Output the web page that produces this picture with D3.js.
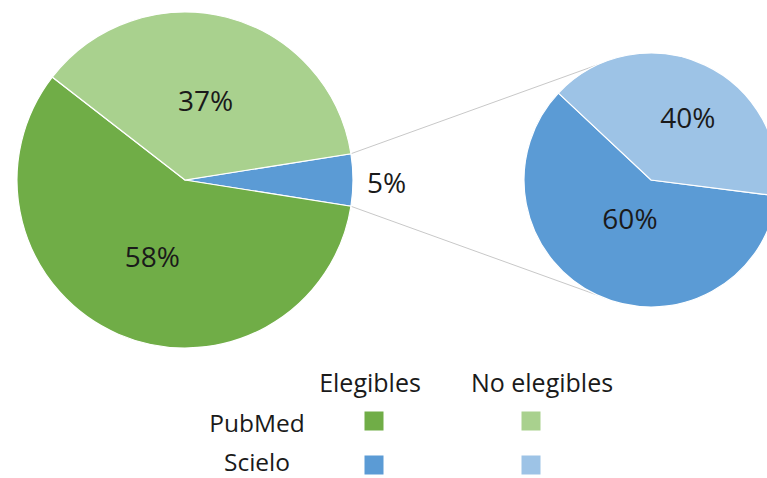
<!DOCTYPE html>
<html>
<head>
<meta charset="utf-8">
<script src="https://cdn.jsdelivr.net/npm/d3@7"></script>
<style>
  html, body { margin: 0; padding: 0; background: #ffffff; }
  svg { display: block; font-family: "Open Sans", "Noto Sans", sans-serif; }
</style>
</head>
<body>
<svg id="chart" width="767" height="478"></svg>
<script>
// Main pie: share of all records
const mainCategories = ["Scielo", "PubMed elegibles", "PubMed no elegibles"];
const mainValues = [5, 58, 37];
const mainColors = ["#5b9bd5", "#70ad47", "#a9d18e"];

// Secondary pie: breakdown of the Scielo slice
const subCategories = ["Scielo elegibles", "Scielo no elegibles"];
const subValues = [60, 40];
const subColors = ["#5b9bd5", "#9dc3e6"];

// Legend table
const legendColumns = ["Elegibles", "No elegibles"];
const legendRows = ["PubMed", "Scielo"];
const legendColors = [["#70ad47", "#a9d18e"], ["#5b9bd5", "#9dc3e6"]];

const svg = d3.select("#chart");
const deg = Math.PI / 180;

const main = { cx: 185, cy: 180, r: 168 };
const sub = { cx: 651, cy: 180, r: 127 };

// Main pie, with the Scielo slice centred on the right-hand horizontal
const mainTotal = d3.sum(mainValues);
const scieloSpan = mainValues[0] / mainTotal * 2 * Math.PI;
const mainPie = d3.pie().sort(null)
  .startAngle(Math.PI / 2 - scieloSpan / 2)
  .endAngle(Math.PI / 2 - scieloSpan / 2 + 2 * Math.PI);
const mainArcs = mainPie(mainValues);
const mainArc = d3.arc().innerRadius(0).outerRadius(main.r);

// Secondary pie
const subPie = d3.pie().sort(null)
  .startAngle(97.2 * deg)
  .endAngle(97.2 * deg + 2 * Math.PI);
const subArcs = subPie(subValues);
const subArc = d3.arc().innerRadius(0).outerRadius(sub.r);

// Connector lines between the Scielo slice and the secondary pie
const pt = (c, a) => [c.cx + c.r * Math.sin(a), c.cy - c.r * Math.cos(a)];
const s = mainArcs[0];
const connectors = [
  [pt(main, s.startAngle), pt(sub, -25 * deg)],
  [pt(main, s.endAngle), pt(sub, 205 * deg)]
];
svg.append("g").selectAll("line").data(connectors).join("line")
  .attr("x1", d => d[0][0]).attr("y1", d => d[0][1])
  .attr("x2", d => d[1][0]).attr("y2", d => d[1][1])
  .attr("stroke", "#c8c8c8").attr("stroke-width", 1);

const gMain = svg.append("g").attr("transform", `translate(${main.cx},${main.cy})`);
gMain.selectAll("path").data(mainArcs).join("path")
  .attr("d", mainArc)
  .attr("fill", (d, i) => mainColors[i])
  .attr("stroke", "#ffffff").attr("stroke-width", 1.2);

const gSub = svg.append("g").attr("transform", `translate(${sub.cx},${sub.cy})`);
gSub.selectAll("path").data(subArcs).join("path")
  .attr("d", subArc)
  .attr("fill", (d, i) => subColors[i])
  .attr("stroke", "#ffffff").attr("stroke-width", 1.2);

// Percentage labels, placed along each slice's bisector
const pct = (v, total) => Math.round(v / total * 100) + "%";
const polar = (d, rad, nudge) => {
  const a = (d.startAngle + d.endAngle) / 2 + nudge * deg;
  return [rad * Math.sin(a), -rad * Math.cos(a)];
};

const mainLabelPos = [
  (d) => [367 - main.cx, 2],               // Scielo label sits outside the pie
  (d) => polar(d, main.r * 0.49, 0),
  (d) => polar(d, main.r * 0.49, 0)
];
gMain.selectAll("text").data(mainArcs).join("text")
  .attr("x", (d, i) => mainLabelPos[i](d)[0])
  .attr("y", (d, i) => mainLabelPos[i](d)[1])
  .attr("text-anchor", (d, i) => i === 0 ? "start" : "middle")
  .attr("dominant-baseline", "central")
  .attr("font-size", 28)
  .attr("fill", "#1a1a1a")
  .text(d => pct(d.data, mainTotal));

const subTotal = d3.sum(subValues);
const subLabelPos = [
  (d) => polar(d, sub.r * 0.34, 4),
  (d) => polar(d, sub.r * 0.575, 5)
];
gSub.selectAll("text").data(subArcs).join("text")
  .attr("x", (d, i) => subLabelPos[i](d)[0])
  .attr("y", (d, i) => subLabelPos[i](d)[1])
  .attr("text-anchor", "middle")
  .attr("dominant-baseline", "central")
  .attr("font-size", 28)
  .attr("fill", "#1a1a1a")
  .text(d => pct(d.data, subTotal));

// Legend grid
const colX = d3.scalePoint().domain(legendColumns).range([370, 542]);
const swatchX = d3.scalePoint().domain(legendColumns).range([374, 531]);
const rowY = d3.scalePoint().domain(legendRows).range([422, 461]);
const swatchY = d3.scalePoint().domain(legendRows).range([421.5, 465.5]);

const legend = svg.append("g");
legend.selectAll("text.col").data(legendColumns).join("text")
  .attr("class", "col")
  .attr("x", d => colX(d)).attr("y", 382)
  .attr("text-anchor", "middle").attr("dominant-baseline", "central")
  .attr("font-size", 25).attr("fill", "#1a1a1a")
  .text(d => d);
legend.selectAll("text.row").data(legendRows).join("text")
  .attr("class", "row")
  .attr("x", 257).attr("y", d => rowY(d))
  .attr("text-anchor", "middle").attr("dominant-baseline", "central")
  .attr("font-size", 24.5).attr("fill", "#1a1a1a")
  .text(d => d);

const swatches = [];
legendRows.forEach((r, ri) => legendColumns.forEach((c, ci) =>
  swatches.push({ row: r, col: c, color: legendColors[ri][ci] })));
legend.selectAll("rect").data(swatches).join("rect")
  .attr("x", d => swatchX(d.col) - 9.5)
  .attr("y", d => swatchY(d.row) - 10)
  .attr("width", 19).attr("height", 19)
  .attr("fill", d => d.color);
</script>
</body>
</html>
